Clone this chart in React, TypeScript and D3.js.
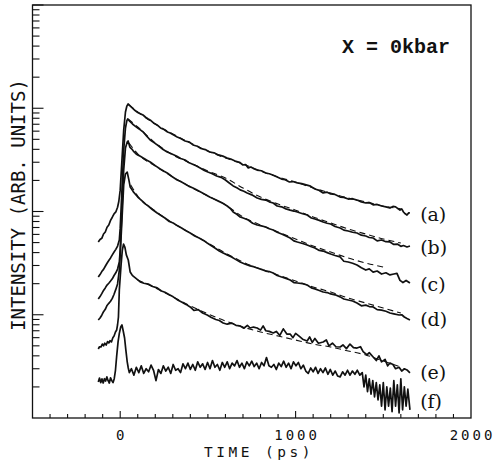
import * as d3 from "d3";
import { useEffect, useRef } from "react";

const WIDTH = 495;
const HEIGHT = 464;

// time axis (ps) and intensity axis (arb. units, log)
const timeDomain = [-500, 2000];
const intensityDomain = [1, 10000];
const timeLabels = [0, 1000, 2000];

// measured decays, [time ps, intensity]
const curveA = [
  [-125, 50.7], [-115, 53.5], [-105, 55.0], [-95, 60.5], [-85, 63.3], [-75, 70.5], [-65, 74], [-55, 82],
  [-45, 88], [-35, 95], [-25, 99], [-15, 110], [-8, 125], [0, 161], [10, 315], [20, 616], [30, 920],
  [38, 1050], [45, 1100], [55, 1060], [70, 1005], [85, 950], [100, 909], [115, 885], [130, 860], [145, 818],
  [160, 787], [175, 760], [190, 720], [210, 690], [230, 644], [250, 622], [270, 589], [285, 575], [300, 557],
  [325, 527], [345, 510], [370, 482], [395, 470], [415, 441], [440, 428], [460, 408], [485, 398], [510, 377],
  [535, 370], [560, 353], [585, 344], [610, 330], [630, 322], [655, 308], [680, 300], [700, 282], [715, 285],
  [730, 264], [745, 270], [765, 258], [780, 252], [805, 248], [830, 236], [850, 232], [870, 226], [895, 216],
  [920, 206], [940, 203], [965, 193], [985, 195], [1010, 189], [1035, 186], [1060, 181], [1085, 176],
  [1110, 165], [1135, 160], [1157, 151], [1180, 154], [1200, 148], [1225, 146], [1254, 138], [1275, 137],
  [1300, 132], [1325, 133], [1350, 129], [1375, 124], [1400, 121], [1420, 122], [1442, 116], [1465, 117],
  [1490, 113], [1515, 111], [1538, 108], [1555, 112], [1570, 111], [1585, 106], [1595, 103], [1605, 106],
  [1615, 98.9], [1625, 95], [1635, 92.5], [1645, 97], [1652, 96.7],
];

const curveB = [
  [-125, 23.2], [-115, 24.5], [-105, 26.2], [-95, 27.5], [-85, 29.5], [-75, 31.5], [-65, 33.5], [-55, 35.5],
  [-45, 38], [-35, 40.5], [-25, 43], [-15, 46.3], [-5, 53], [0, 69], [10, 162], [20, 394], [30, 644],
  [38, 760], [43, 787], [55, 745], [70, 704], [85, 672], [100, 644], [115, 618], [131, 589], [150, 540],
  [171, 493], [195, 462], [220, 431], [245, 398], [268, 377], [295, 360], [320, 345], [345, 326], [370, 315],
  [390, 298], [410, 288], [435, 276], [456, 264], [480, 250], [500, 241], [525, 232], [550, 221], [575, 214],
  [600, 202], [620, 190], [644, 177], [665, 170], [684, 162], [705, 157], [724, 151], [750, 145], [781, 135],
  [805, 131], [830, 129], [850, 124], [872, 121], [895, 113], [920, 111], [945, 106], [969, 103], [990, 101],
  [1010, 98.9], [1040, 95], [1066, 92.5], [1090, 86.5], [1110, 84.6], [1135, 82], [1157, 79.1], [1180, 77],
  [1200, 75.7], [1225, 71.5], [1254, 69.2], [1275, 66], [1300, 64.7], [1325, 63], [1350, 61.9], [1375, 59],
  [1400, 57.9], [1420, 56], [1442, 55.4], [1465, 52], [1490, 53.0], [1515, 51], [1538, 50.7], [1560, 48],
  [1580, 48.4], [1600, 46], [1615, 46.8], [1635, 45.3], [1652, 46.3],
];

const curveC = [
  [-125, 14.2], [-115, 15.0], [-105, 16.0], [-95, 17.2], [-85, 18.2], [-75, 19.4], [-65, 20.2], [-55, 21.2],
  [-45, 22.3], [-35, 24], [-25, 25.5], [-15, 27.7], [-5, 32.4], [0, 42.4], [10, 103], [20, 252], [30, 412],
  [40, 470], [45, 482], [55, 421], [65, 405], [75, 385], [88, 365], [100, 353], [115, 342], [131, 330],
  [150, 315], [171, 302], [200, 278], [228, 258], [250, 245], [268, 236], [295, 218], [325, 202], [345, 195],
  [370, 185], [390, 176], [415, 169], [435, 162], [456, 155], [485, 146], [510, 138], [535, 132], [560, 126],
  [585, 120], [610, 113], [630, 106], [644, 98.9], [665, 94], [684, 88.5], [705, 86], [730, 82.7], [755, 77],
  [781, 74.0], [805, 72.5], [830, 70.8], [850, 68], [872, 66.2], [895, 63], [920, 60.5], [945, 58],
  [969, 55.4], [990, 52], [1010, 50.7], [1040, 49], [1066, 47.4], [1090, 45.5], [1110, 44.3], [1135, 42],
  [1157, 41.4], [1180, 40], [1200, 38.8], [1225, 37.5], [1254, 36.3], [1275, 33], [1300, 32.4], [1325, 31.5],
  [1350, 30.3], [1375, 28.5], [1400, 27.1], [1420, 27.8], [1442, 25.9], [1465, 26.5], [1490, 24.8],
  [1515, 25.5], [1538, 24.3], [1560, 24.8], [1578, 25.2], [1595, 21.5], [1612, 20.5], [1630, 21.5],
  [1652, 20.3],
];

const curveD = [
  [-125, 8.9], [-115, 9.3], [-105, 9.9], [-95, 10.7], [-85, 11.3], [-75, 12.3], [-65, 12.9], [-55, 13.5],
  [-45, 14.4], [-35, 15.8], [-25, 17.6], [-15, 19.9], [-5, 27.1], [0, 37.9], [10, 82.7], [20, 181], [30, 231],
  [40, 241], [50, 200], [57, 173], [65, 165], [75, 155], [88, 146], [100, 138], [115, 131], [131, 124],
  [145, 118], [160, 113], [185, 104], [211, 96.7], [235, 91], [255, 86.5], [280, 80], [302, 77.4], [325, 73],
  [350, 69.2], [375, 65], [399, 61.9], [425, 58], [450, 55.4], [475, 52.5], [496, 49.5], [520, 46.5],
  [540, 44.3], [565, 41.5], [587, 39.6], [610, 38], [635, 36.3], [660, 34.2], [684, 32.4], [710, 31],
  [741, 29.7], [760, 29.2], [781, 28.4], [805, 27.5], [830, 26.5], [850, 26.2], [872, 25.4], [895, 24],
  [920, 23.2], [945, 22.5], [969, 21.7], [990, 20.5], [1010, 20.3], [1040, 20.0], [1066, 19.4], [1090, 18.2],
  [1110, 17.8], [1135, 17.2], [1157, 16.6], [1180, 16.4], [1200, 15.9], [1225, 15.6], [1254, 14.9],
  [1275, 14.2], [1300, 13.9], [1325, 13.6], [1350, 13.0], [1375, 12.2], [1400, 12.4], [1420, 12.0],
  [1442, 11.9], [1465, 11.2], [1490, 11.1], [1515, 10.8], [1538, 10.4], [1560, 10.2], [1590, 9.95],
  [1605, 10.0], [1620, 9.51], [1635, 9.2], [1652, 8.9],
];

const curveE = [
  [-125, 4.66], [-118, 4.9], [-110, 4.87], [-102, 5.2], [-95, 5.0], [-88, 5.3], [-80, 5.09], [-72, 5.5],
  [-65, 5.33], [-58, 5.6], [-50, 5.45], [-42, 6.0], [-35, 6.23], [-27, 6.8], [-20, 7.12], [-15, 8.0],
  [-10, 9.51], [-5, 17.4], [5, 30.3], [12, 42], [19, 48.4], [27, 45], [35, 38], [46, 33.9], [57, 25.9],
  [66, 24.5], [74, 23.7], [90, 22.5], [114, 20.8], [135, 20.2], [160, 19.8], [185, 18.8], [211, 18.2],
  [235, 17.0], [255, 16.5], [280, 15.6], [302, 14.9], [325, 14.0], [350, 13.3], [375, 12.6], [399, 11.9],
  [420, 11.0], [445, 11.2], [470, 10.4], [496, 9.95], [520, 9.4], [545, 9.0], [565, 8.8], [587, 8.32],
  [610, 8.1], [635, 8.3], [660, 7.9], [684, 7.78], [705, 7.4], [725, 7.9], [741, 7.44], [760, 7.6],
  [781, 7.44], [800, 7.1], [815, 7.8], [830, 7.0], [850, 6.9], [872, 6.66], [890, 6.9], [910, 6.3],
  [930, 7.3], [950, 6.5], [969, 6.51], [985, 6.0], [1000, 6.6], [1020, 6.2], [1040, 5.8], [1066, 5.57],
  [1080, 6.1], [1095, 5.4], [1110, 5.9], [1130, 5.3], [1157, 5.45], [1175, 5.7], [1190, 5.0], [1210, 5.3],
  [1230, 4.9], [1254, 4.87], [1270, 5.1], [1290, 4.7], [1310, 5.2], [1330, 4.8], [1350, 4.76], [1370, 4.9],
  [1385, 4.4], [1407, 4.08], [1420, 4.3], [1442, 3.9], [1460, 3.6], [1475, 4.0], [1490, 3.5], [1510, 3.7],
  [1525, 3.2], [1538, 3.41], [1555, 3.3], [1570, 3.0], [1590, 3.1], [1605, 2.85], [1620, 3.0], [1635, 2.92],
  [1652, 2.73],
];

const curveF = [
  [-125, 2.23], [-118, 2.44], [-111, 2.2], [-104, 2.39], [-97, 2.18], [-90, 2.4], [-83, 2.28], [-76, 2.5],
  [-69, 2.3], [-62, 2.18], [-55, 2.45], [-48, 2.3], [-41, 2.2], [-34, 2.4], [-27, 2.9], [-20, 4.0],
  [-12, 5.5], [-5, 6.6], [3, 7.6], [10, 7.96], [17, 7.0], [25, 5.95], [32, 4.6], [40, 3.5], [46, 3.05],
  [52, 2.75], [64, 3.0], [78, 2.6], [92, 3.1], [106, 2.75], [120, 3.2], [134, 2.7], [148, 3.0], [162, 2.8],
  [176, 3.25], [190, 2.9], [204, 2.3], [218, 2.95], [232, 2.7], [246, 3.2], [260, 2.85], [274, 3.1],
  [288, 2.7], [302, 3.3], [316, 2.9], [330, 3.0], [344, 2.75], [358, 3.35], [372, 3.0], [386, 3.4],
  [400, 2.95], [414, 3.3], [428, 2.9], [442, 3.5], [456, 3.1], [470, 3.35], [484, 2.95], [498, 3.45],
  [512, 3.0], [526, 3.6], [540, 3.1], [554, 3.3], [568, 2.9], [582, 3.45], [596, 3.1], [610, 3.5],
  [624, 3.0], [638, 3.4], [652, 3.2], [666, 3.6], [680, 3.1], [694, 3.4], [708, 3.0], [722, 3.5],
  [736, 3.2], [750, 3.55], [764, 3.15], [778, 3.4], [792, 3.0], [806, 3.45], [820, 3.2], [834, 3.85],
  [848, 3.2], [862, 3.1], [876, 3.3], [890, 2.95], [904, 3.4], [918, 3.15], [932, 3.55], [946, 3.1],
  [960, 3.4], [974, 3.0], [988, 3.5], [1002, 3.2], [1016, 3.45], [1030, 3.0], [1044, 3.25], [1058, 2.85],
  [1072, 2.7], [1086, 3.05], [1100, 2.8], [1114, 3.1], [1128, 2.7], [1142, 3.0], [1156, 2.75], [1170, 3.05],
  [1184, 2.65], [1198, 2.95], [1212, 2.6], [1226, 2.85], [1240, 2.55], [1254, 2.5], [1268, 2.8], [1282, 2.6],
  [1296, 2.9], [1310, 2.6], [1324, 2.85], [1338, 2.65], [1352, 2.9], [1366, 2.6], [1380, 2.75],
  [1390, 2.0], [1400, 2.6], [1410, 1.8], [1420, 2.4], [1430, 1.7], [1440, 2.3], [1450, 1.6], [1460, 2.2],
  [1470, 1.5], [1480, 2.1], [1490, 1.3], [1500, 2.2], [1510, 1.2], [1520, 2.0], [1530, 1.3], [1540, 1.95],
  [1550, 1.15], [1560, 2.3], [1570, 1.3], [1580, 2.1], [1590, 1.12], [1600, 2.4], [1610, 1.2], [1620, 2.0],
  [1630, 1.3], [1640, 1.9], [1652, 1.2],
];

// fitted decays (dashed)
const fitA = [
  [50, 1076], [100, 920], [200, 704], [300, 563], [400, 461], [500, 385], [600, 330], [700, 288],
  [800, 247], [900, 216], [1000, 193], [1100, 169], [1200, 151], [1300, 135], [1400, 124], [1500, 113],
  [1600, 106],
];
const fitB = [
  [45, 787], [100, 658], [200, 461], [300, 353], [400, 295], [500, 247], [600, 211], [700, 169],
  [800, 138], [900, 118], [1000, 103], [1100, 88.5], [1200, 77.4], [1300, 67.7], [1400, 60.5],
  [1500, 54.2], [1600, 49.5],
];
const fitC = [
  [50, 461], [100, 361], [200, 276], [300, 216], [400, 173], [500, 141], [600, 116], [700, 88.5],
  [800, 74.0], [900, 63.3], [1000, 54.2], [1100, 46.3], [1200, 40.5], [1300, 35.4], [1400, 31.7],
  [1500, 29.0],
];
const fitD = [
  [60, 181], [100, 141], [200, 101], [300, 77.4], [400, 61.9], [500, 49.5], [600, 39.6], [700, 32.4],
  [800, 27.7], [900, 24.3], [1000, 21.2], [1100, 18.6], [1200, 16.6], [1300, 14.5], [1400, 13.0],
  [1500, 11.6], [1600, 10.4],
];
const fitE = [
  [100, 21.7], [200, 18.2], [300, 14.9], [400, 12.2], [500, 10.2], [600, 8.7], [700, 7.61], [800, 6.81],
  [900, 6.23], [1000, 5.69], [1100, 5.21], [1200, 4.87], [1300, 4.46], [1400, 4.08], [1500, 3.56],
  [1600, 3.12],
];

const curves = [curveA, curveB, curveC, curveD, curveE, curveF];
const fits = [fitA, fitB, fitC, fitD, fitE];
const curveNames = ["(a)", "(b)", "(c)", "(d)", "(e)", "(f)"];
const nameLevels = [92.5, 44.3, 19.4, 8.9, 2.73, 1.43];
const nameTime = 1710;
const pressureNote = { text: "X = 0kbar", time: 1265, level: 3430 };

const MONO = "'DejaVu Sans Mono', monospace";

const App = () => {
  const svgRef = useRef<SVGSVGElement | null>(null);

  useEffect(() => {
    const svg = d3.select(svgRef.current);
    svg.selectAll("*").remove();

    const x = d3.scaleLinear().domain(timeDomain).range([32.5, 471]);
    const y = d3.scaleLog().domain(intensityDomain).range([418, 5]);

    const [x0, x1] = x.range();
    const [yb, yt] = y.range();

    // frame
    svg
      .append("rect")
      .attr("x", x0)
      .attr("y", yt)
      .attr("width", x1 - x0)
      .attr("height", yb - yt)
      .attr("fill", "none")
      .attr("stroke", "#111")
      .attr("stroke-width", 1.3);

    // left log ticks (inside)
    y.ticks().forEach((v) => {
      if (v <= intensityDomain[0]) return;
      const major = Math.abs(Math.log10(v) - Math.round(Math.log10(v))) < 1e-9;
      svg
        .append("line")
        .attr("x1", x0)
        .attr("x2", x0 + (major ? 11 : 7))
        .attr("y1", y(v))
        .attr("y2", y(v))
        .attr("stroke", "#111")
        .attr("stroke-width", 1.1);
    });

    // bottom ticks every 100 ps
    d3.range(-400, 2000, 100).forEach((t) => {
      const major = t % 1000 === 0;
      svg
        .append("line")
        .attr("x1", x(t))
        .attr("x2", x(t))
        .attr("y1", yb)
        .attr("y2", yb - (major ? 7 : 4))
        .attr("stroke", "#111")
        .attr("stroke-width", 1.1);
    });

    timeLabels.forEach((t) => {
      svg
        .append("text")
        .attr("x", x(t) + 1.5)
        .attr("y", 440)
        .attr("font-family", MONO)
        .attr("font-size", 14)
        .attr("letter-spacing", 3)
        .attr("text-anchor", "middle")
        .attr("fill", "#111")
        .text(String(t));
    });

    svg
      .append("text")
      .attr("x", 259)
      .attr("y", 457)
      .attr("font-family", MONO)
      .attr("font-size", 14.5)
      .attr("letter-spacing", 3.5)
      .attr("text-anchor", "middle")
      .attr("fill", "#111")
      .text("TIME (ps)");

    svg
      .append("text")
      .attr("transform", "translate(25, 205) rotate(-90)")
      .attr("font-family", MONO)
      .attr("font-size", 19)
      .attr("text-anchor", "middle")
      .attr("fill", "#111")
      .text("INTENSITY (ARB. UNITS)");

    const line = d3
      .line<number[]>()
      .x((d) => x(d[0]))
      .y((d) => y(d[1]));

    const smooth = d3
      .line<number[]>()
      .x((d) => x(d[0]))
      .y((d) => y(d[1]))
      .curve(d3.curveMonotoneX);

    fits.forEach((f) => {
      svg
        .append("path")
        .attr("d", smooth(f))
        .attr("fill", "none")
        .attr("stroke", "#111")
        .attr("stroke-width", 1.1)
        .attr("stroke-dasharray", "6,4");
    });

    curves.forEach((c) => {
      svg
        .append("path")
        .attr("d", line(c))
        .attr("fill", "none")
        .attr("stroke", "#111")
        .attr("stroke-width", 1.7)
        .attr("stroke-linejoin", "round");
    });

    curveNames.forEach((name, i) => {
      svg
        .append("text")
        .attr("x", x(nameTime))
        .attr("y", y(nameLevels[i]) + 6)
        .attr("font-family", "'DejaVu Serif', serif")
        .attr("font-size", 19)
        .attr("fill", "#111")
        .text(name);
    });

    svg
      .append("text")
      .attr("x", x(pressureNote.time))
      .attr("y", y(pressureNote.level))
      .attr("font-family", "'Liberation Mono', monospace")
      .attr("font-weight", "bold")
      .attr("font-size", 20)
      .attr("fill", "#111")
      .text(pressureNote.text);
  }, []);

  return (
    <svg
      ref={svgRef}
      width={WIDTH}
      height={HEIGHT}
      style={{ position: "absolute", left: 0, top: 0, background: "#fff" }}
    />
  );
};

export default App;
